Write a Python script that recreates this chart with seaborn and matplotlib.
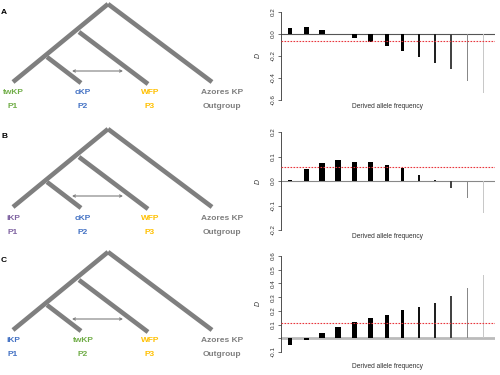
import matplotlib
matplotlib.use("Agg")
import matplotlib.pyplot as plt
import seaborn as sns
import pandas as pd
import numpy as np

sns.set_theme(style="white")
plt.rcParams['font.family'] = ['Liberation Sans', 'DejaVu Sans']

# ---------------- data ----------------
freq_bins = ["1", "2", "3", "4", "5", "6", "7", "8", "9", "10", "11", "12", "13"]
d_A = [0.058, 0.064, 0.035, 0.0, -0.035, -0.074, -0.11, -0.156, -0.21, -0.265, -0.32, -0.43, -0.54]
d_B = [0.004, 0.047, 0.073, 0.087, 0.079, 0.079, 0.064, 0.052, 0.025, 0.004, -0.029, -0.071, -0.131]
d_C = [-0.05, -0.01, 0.041, 0.080, 0.117, 0.149, 0.17, 0.204, 0.23, 0.26, 0.308, 0.368, 0.462]
mean_A, mean_B, mean_C = -0.06, 0.056, 0.113
bar_widths_px = [3.5, 5, 6, 6, 5.5, 5, 4, 3, 2.5, 2, 1.6, 1.2, 1.0]
bar_colors = ["#000000"] * 8 + ["#111111", "#222222", "#444444", "#888888", "#c8c8c8"]

panel_letters = ["A", "B", "C"]
tip_top = [["twKP", "cKP", "WFP", "Azores KP"],
           ["iKP", "cKP", "WFP", "Azores KP"],
           ["iKP", "twKP", "WFP", "Azores KP"]]
tip_bottom = ["P1", "P2", "P3", "Outgroup"]
GREEN, BLUE, GOLD, GRAY, PURPLE = "#70AD47", "#4472C4", "#FFC000", "#7F7F7F", "#8064A2"
tip_colors = [[GREEN, BLUE, GOLD, GRAY],
              [PURPLE, BLUE, GOLD, GRAY],
              [BLUE, GREEN, GOLD, GRAY]]

# tree geometry (pixel space of one 125-px panel)
tree_segments = [((108, 4), (13, 82)),     # root -> P1 side
                 ((108, 4), (212, 82)),    # root -> outgroup
                 ((79, 32), (148, 84)),    # node -> P3
                 ((47, 57), (81, 83))]     # node -> P2
arrow_span = ((72, 71), (123, 71))
label_x = [13, 83, 150, 222]
panel_offsets = [0, 125, 248]

fig = plt.figure(figsize=(5, 3.75), dpi=100)
W, H = 500, 375

# ---------------- trees ----------------
tax = fig.add_axes([0, 0, 1, 1])
tax.set_xlim(0, W)
tax.set_ylim(H, 0)
tax.axis("off")
for p, off in enumerate(panel_offsets):
    for (x0, y0), (x1, y1) in tree_segments:
        tax.plot([x0, x1], [y0 + off, y1 + off], color=GRAY, lw=3.3,
                 solid_capstyle="butt")
    (ax0, ay0), (ax1, ay1) = arrow_span
    tax.annotate("", xy=(ax1, ay1 + off), xytext=(ax0, ay0 + off),
                 arrowprops=dict(arrowstyle="<->", color=GRAY, lw=0.8,
                                 mutation_scale=4, shrinkA=0, shrinkB=0))
    for i in range(4):
        tax.text(label_x[i], 93 + off, tip_top[p][i], color=tip_colors[p][i],
                 fontsize=6, fontweight="bold", ha="center", va="center")
        tax.text(label_x[i], 107 + off, tip_bottom[i], color=tip_colors[p][i],
                 fontsize=6, fontweight="bold", ha="center", va="center")
    tax.text(4, 12 + off, panel_letters[p], fontsize=6, fontweight="bold",
             ha="center", va="center", color="black")

# ---------------- bar panels ----------------
def px_axes(left, top, right, bottom):
    return fig.add_axes([left / W, 1 - bottom / H, (right - left) / W, (bottom - top) / H])

spacing = 16.1
first_center = 290
ax_left, ax_right = 281, 495
xlim = ((ax_left - first_center) / spacing, (ax_right - first_center) / spacing)

panels = [
    dict(vals=d_A, mean=mean_A, top=12, bottom=100, ylim=(-0.6, 0.2),
         ticks=[-0.6, -0.4, -0.2, 0.0, 0.2], labels=["-0.6", "-0.4", "-0.2", "0.0", "0.2"],
         zcol="#555555", zlw=0.8, xlab_y=107),
    dict(vals=d_B, mean=mean_B, top=132, bottom=230, ylim=(-0.2, 0.2),
         ticks=[-0.2, -0.1, 0.0, 0.1, 0.2], labels=["-0.2", "-0.1", "0.0", "0.1", "0.2"],
         zcol="#888888", zlw=0.8, xlab_y=236),
    dict(vals=d_C, mean=mean_C, top=256, bottom=352, ylim=(-0.1, 0.6),
         ticks=[-0.1, 0.0, 0.1, 0.2, 0.3, 0.4, 0.5, 0.6],
         labels=["-0.1", "", "0.1", "0.2", "0.3", "0.4", "0.5", "0.6"],
         zcol="#bbbbbb", zlw=2.0, xlab_y=367),
]

for pn in panels:
    ax = px_axes(ax_left, pn["top"], ax_right, pn["bottom"])
    df = pd.DataFrame({"bin": freq_bins, "D": pn["vals"]})
    ax.axhline(0, color=pn["zcol"], lw=pn["zlw"], zorder=1)
    sns.barplot(data=df, x="bin", y="D", hue="bin", palette=bar_colors,
                legend=False, ax=ax, width=0.4, saturation=1, zorder=2)
    for patch, wpx in zip(ax.patches, bar_widths_px):
        c = patch.get_x() + patch.get_width() / 2
        w = wpx / spacing
        patch.set_width(w)
        patch.set_x(c - w / 2)
        patch.set_linewidth(0)
    ax.plot(list(xlim), [pn["mean"], pn["mean"]], color="#e8363c", lw=0.8,
            ls=(0, (1.5, 1.2)), zorder=3)
    ax.set_xlim(*xlim)
    ax.set_ylim(*pn["ylim"])
    ax.set_facecolor("none")
    for s in ["top", "right", "bottom"]:
        ax.spines[s].set_visible(False)
    ax.spines["left"].set_color("#333333")
    ax.spines["left"].set_linewidth(0.6)
    ax.spines["left"].set_bounds(pn["ylim"][0], pn["ylim"][1])
    ax.set_xticks([])
    ax.set_yticks(pn["ticks"])
    ax.set_yticklabels(pn["labels"], rotation=90, va="center", fontsize=4.5, color="#333333")
    ax.tick_params(axis="y", left=True, length=2.5, width=0.5, color="#333333", pad=1.5)
    ax.set_xlabel("")
    ax.set_ylabel("D", fontsize=5, fontstyle="italic", labelpad=6, rotation=90, color="#333333")
    fig.text(388 / W, 1 - pn["xlab_y"] / H, "Derived allele frequency",
             fontsize=4.8, ha="center", va="center", color="#333333")

fig.savefig("out.png", dpi=100, facecolor="white")
